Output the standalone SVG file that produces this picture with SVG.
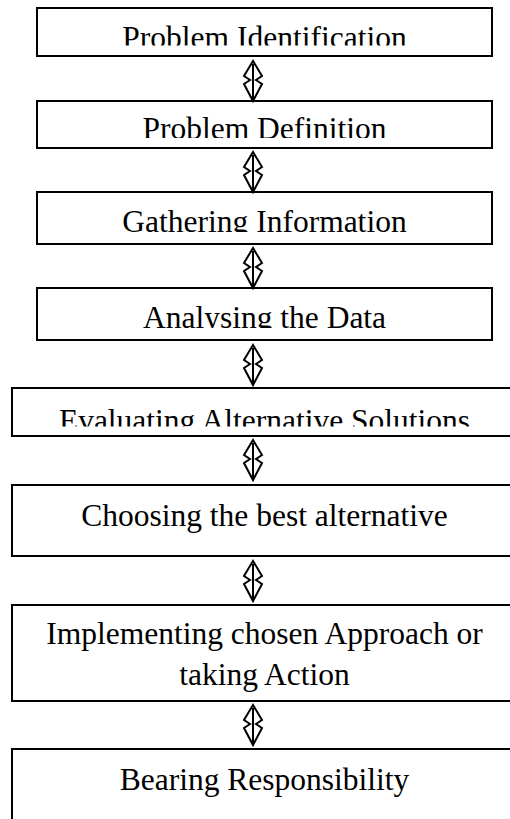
<svg xmlns="http://www.w3.org/2000/svg" xmlns:xlink="http://www.w3.org/1999/xlink" width="510" height="819" viewBox="0 0 510 819">
<style>
.box{fill:#fff;stroke:#000;stroke-width:2}
.lbl{font-family:"Liberation Serif","Times New Roman",serif;font-size:31.5px;fill:#000;text-anchor:middle}
.arr{fill:none;stroke:#000;stroke-width:2;stroke-linejoin:miter}
</style>
<defs>
<g id="ud">
<path class="arr" d="M0,0 L-9,15 L-3,19 L-9,23 L0,40 L9,23 L3,19 L9,15 Z"/>
<line class="arr" x1="0" y1="3" x2="0" y2="40"/>
</g>
<clipPath id="c1"><rect x="37" y="8" width="455" height="37.5"/></clipPath>
<clipPath id="c2"><rect x="37" y="101" width="455" height="37"/></clipPath>
<clipPath id="c3"><rect x="37" y="192" width="455" height="40"/></clipPath>
<clipPath id="c4"><rect x="37" y="288" width="455" height="40"/></clipPath>
<clipPath id="c5"><rect x="12" y="388" width="500" height="38.5"/></clipPath>
</defs>
<rect width="510" height="819" fill="#fff"/>
<g id="n1"><rect class="box" x="37" y="8" width="455" height="48"/><text class="lbl" x="264.5" y="48" clip-path="url(#c1)">Problem Identification</text></g>
<g id="n2"><rect class="box" x="37" y="101" width="455" height="47"/><text class="lbl" x="264.5" y="139" clip-path="url(#c2)">Problem Definition</text></g>
<g id="n3"><rect class="box" x="37" y="192" width="455" height="52"/><text class="lbl" x="264.5" y="232" clip-path="url(#c3)">Gathering Information</text></g>
<g id="n4"><rect class="box" x="37" y="288" width="455" height="52"/><text class="lbl" x="264.5" y="328" clip-path="url(#c4)">Analysing the Data</text></g>
<g id="n5"><rect class="box" x="12" y="388" width="510" height="48"/><text class="lbl" x="264.5" y="431" clip-path="url(#c5)">Evaluating Alternative Solutions</text></g>
<g id="n6"><rect class="box" x="12" y="485" width="510" height="71"/><text class="lbl" x="264.5" y="526">Choosing the best alternative</text></g>
<g id="n7"><rect class="box" x="12" y="605" width="510" height="96"/><text class="lbl" x="264.5" y="644">Implementing chosen Approach or</text><text class="lbl" x="264.5" y="685">taking Action</text></g>
<g id="n8"><rect class="box" x="12" y="749" width="510" height="100"/><text class="lbl" x="264.5" y="790">Bearing Responsibility</text></g>
<g id="connectors">
<use xlink:href="#ud" transform="translate(253,61)"/>
<use xlink:href="#ud" transform="translate(253,152)"/>
<use xlink:href="#ud" transform="translate(253,248)"/>
<use xlink:href="#ud" transform="translate(253,345)"/>
<use xlink:href="#ud" transform="translate(253,440)"/>
<use xlink:href="#ud" transform="translate(253,561)"/>
<use xlink:href="#ud" transform="translate(253,705)"/>
</g>
</svg>
